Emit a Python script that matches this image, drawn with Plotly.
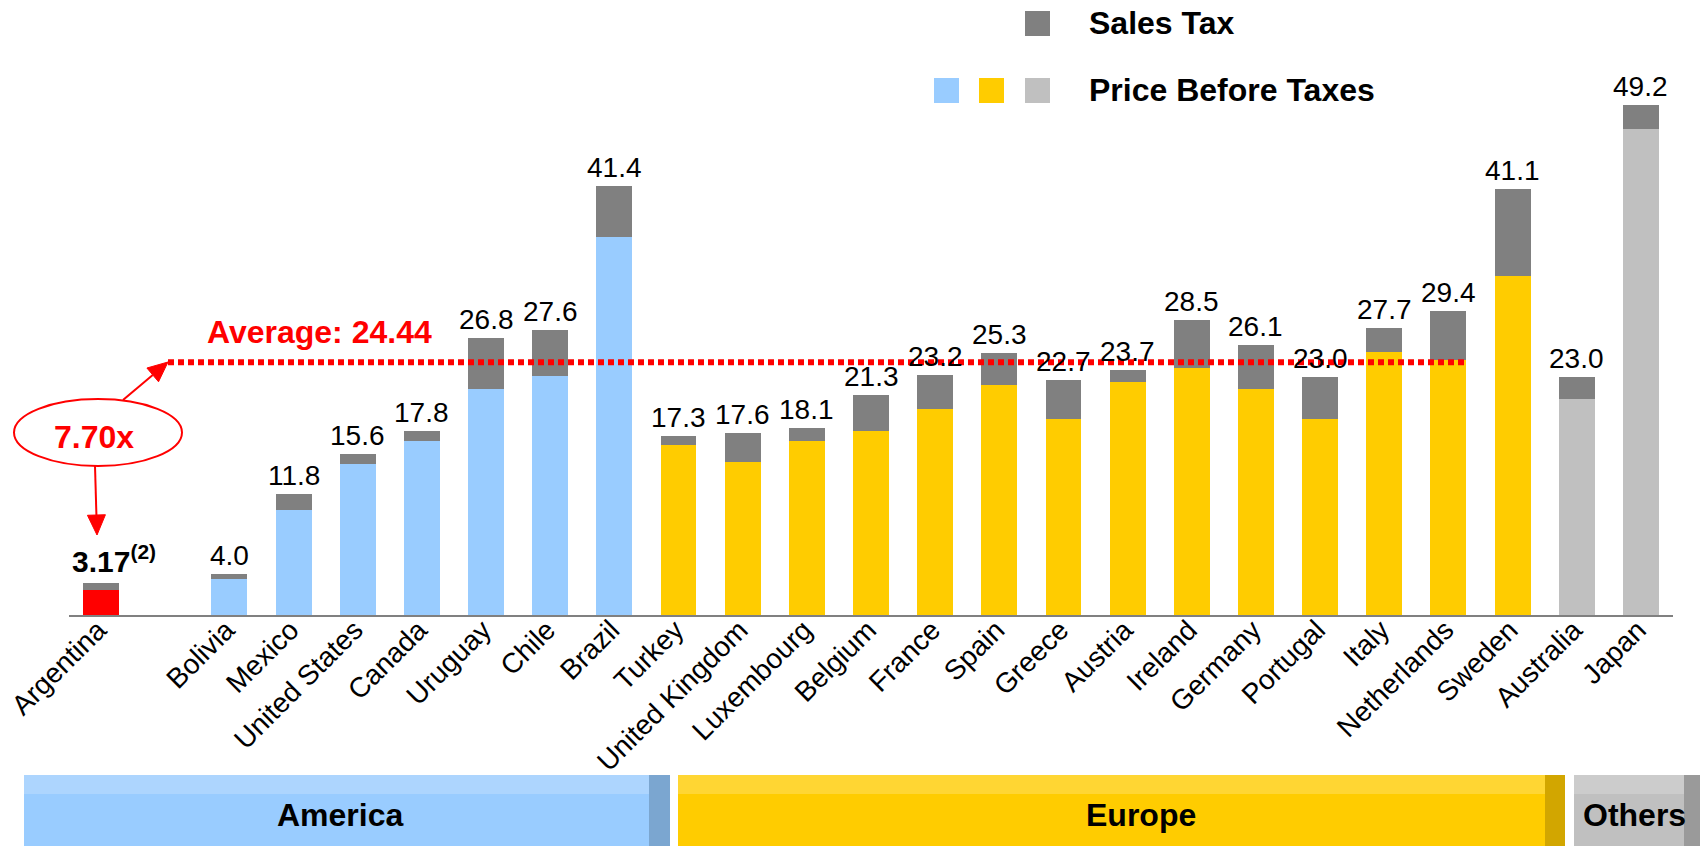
import math
import plotly.graph_objects as go

# ---------------- data ----------------
countries = ["Argentina", "Bolivia", "Mexico", "United States", "Canada", "Uruguay", "Chile", "Brazil",
             "Turkey", "United Kingdom", "Luxembourg", "Belgium", "France", "Spain", "Greece", "Austria",
             "Ireland", "Germany", "Portugal", "Italy", "Netherlands", "Sweden", "Australia", "Japan"]
regions = ["Argentina"] + ["America"] * 7 + ["Europe"] * 14 + ["Others"] * 2
price_before_taxes = [2.49, 3.53, 10.2, 14.6, 16.9, 21.85, 23.1, 36.5,
                      16.5, 14.8, 16.9, 17.8, 19.9, 22.25, 19.0, 22.5,
                      23.9, 21.85, 19.0, 25.4, 24.7, 32.8, 20.9, 46.9]
sales_tax = [0.68, 0.47, 1.6, 1.0, 0.9, 4.95, 4.5, 4.9,
             0.8, 2.8, 1.2, 3.5, 3.3, 3.05, 3.7, 1.2,
             4.6, 4.25, 4.0, 2.3, 4.7, 8.3, 2.1, 2.3]
total_labels = ["3.17", "4.0", "11.8", "15.6", "17.8", "26.8", "27.6", "41.4",
                "17.3", "17.6", "18.1", "21.3", "23.2", "25.3", "22.7", "23.7",
                "28.5", "26.1", "23.0", "27.7", "29.4", "41.1", "23.0", "49.2"]
average_value = 24.44
ratio_label = "7.70x"

region_colors = {"Argentina": "#FF0000", "America": "#99CCFF", "Europe": "#FFCC00", "Others": "#C0C0C0"}
TAX_COLOR = "#808080"
RED = "#FF0000"
FONT = "Liberation Sans, Arial, sans-serif"

# slot positions: one empty slot after Argentina
positions = [0] + [i + 1 for i in range(1, len(countries))]

# ---------------- layout geometry ----------------
# the page body adds an 8px margin, so the figure is 8px smaller on each side
W, H = 1700, 838
ML, MR, MT, MB = 61, 35, 8, 230
PW, PH = W - ML - MR, H - MT - MB
YMAX = PH / 10.38


def pxx(x):  # page x -> paper
    return (x - 8 - ML) / PW


def pxy(y):  # page y -> paper
    return (H - MB - (y - 8)) / PH


fig = go.Figure()
fig.add_trace(go.Bar(
    x=positions, y=price_before_taxes, width=0.56,
    marker=dict(color=[region_colors[r] for r in regions], line=dict(width=0)),
    name="Price Before Taxes", showlegend=False, hoverinfo="skip"))
fig.add_trace(go.Bar(
    x=positions, y=sales_tax, width=0.56,
    marker=dict(color=TAX_COLOR, line=dict(width=0)),
    name="Sales Tax", showlegend=False, hoverinfo="skip"))

annotations = []
shapes = []

# baseline (axis line)
shapes.append(dict(type="line", xref="paper", yref="paper", x0=0, x1=1, y0=0, y1=0,
                   line=dict(color="#808080", width=2), layer="above"))

# value labels
for i, (p, b, t, lab) in enumerate(zip(positions, price_before_taxes, sales_tax, total_labels)):
    if i == 0:
        annotations.append(dict(x=p, y=b + t, xref="x", yref="y", yanchor="bottom", xanchor="center",
                                text=f"<b>{lab}<sup>(2)</sup></b>", showarrow=False, xshift=13, yshift=3,
                                font=dict(family=FONT, size=30, color="black")))
    else:
        annotations.append(dict(x=p, y=b + t, xref="x", yref="y", yanchor="bottom", xanchor="center",
                                text=lab, showarrow=False, yshift=1,
                                font=dict(family=FONT, size=28, color="black")))

# average line
shapes.append(dict(type="line", xref="x", yref="y", x0=1.043, x1=21.3, y0=average_value, y1=average_value,
                   line=dict(color=RED, width=6, dash="6px,4px"), layer="above"))
annotations.append(dict(x=3.41, y=27.33, xref="x", yref="y", xanchor="center", yanchor="middle",
                        text=f"<b>Average: {average_value:.2f}</b>", showarrow=False,
                        font=dict(family=FONT, size=32, color=RED)))

# ellipse with ratio
shapes.append(dict(type="circle", xref="paper", yref="paper", x0=pxx(14), x1=pxx(182), y0=pxy(466), y1=pxy(399),
                   fillcolor="white", line=dict(color=RED, width=2), layer="above"))
annotations.append(dict(x=pxx(94), y=pxy(437), xref="paper", yref="paper", xanchor="center", yanchor="middle",
                        text=f"<b>{ratio_label}</b>", showarrow=False,
                        font=dict(family=FONT, size=32, color=RED)))


# arrows (line + filled triangular head), page pixel coordinates
def arrow(tail, tip, head_len=20, head_half=9):
    dx, dy = tip[0] - tail[0], tip[1] - tail[1]
    n = math.hypot(dx, dy)
    ux, uy = dx / n, dy / n
    bx, by = tip[0] - head_len * ux, tip[1] - head_len * uy
    px_, py_ = -uy, ux
    c1 = (bx + head_half * px_, by + head_half * py_)
    c2 = (bx - head_half * px_, by - head_half * py_)
    shapes.append(dict(type="line", xref="paper", yref="paper",
                       x0=pxx(tail[0]), y0=pxy(tail[1]), x1=pxx(bx), y1=pxy(by),
                       line=dict(color=RED, width=2), layer="above"))
    path = (f"M {pxx(tip[0])} {pxy(tip[1])} L {pxx(c1[0])} {pxy(c1[1])} "
            f"L {pxx(c2[0])} {pxy(c2[1])} Z")
    shapes.append(dict(type="path", xref="paper", yref="paper", path=path,
                       fillcolor=RED, line=dict(color=RED, width=1), layer="above"))


arrow((123, 400), (168, 362))
arrow((95, 466), (97, 535))


# legend
def rect(x0, x1, y0, y1, color):
    shapes.append(dict(type="rect", xref="paper", yref="paper", x0=pxx(x0), x1=pxx(x1), y0=pxy(y1), y1=pxy(y0),
                       fillcolor=color, line=dict(width=0), layer="above"))


rect(1025, 1050, 11, 36, TAX_COLOR)
rect(934, 959, 78, 103, region_colors["America"])
rect(979, 1004, 78, 103, region_colors["Europe"])
rect(1025, 1050, 78, 103, region_colors["Others"])
annotations.append(dict(x=pxx(1087), y=pxy(23), xref="paper", yref="paper", xanchor="left", yanchor="middle",
                        text="<b>Sales Tax</b>", showarrow=False, font=dict(family=FONT, size=32, color="black")))
annotations.append(dict(x=pxx(1087), y=pxy(90), xref="paper", yref="paper", xanchor="left", yanchor="middle",
                        text="<b>Price Before Taxes</b>", showarrow=False,
                        font=dict(family=FONT, size=32, color="black")))

# region bands
region_bands = [
    ("America", 24, 649, 670, "#99CCFF", "#ADD5FE", "#7BA6D0", 340),
    ("Europe", 678, 1545, 1565, "#FFCC00", "#FFD633", "#D2A600", 1141),
    ("Others", 1574, 1684, 1700, "#C0C0C0", "#CCCCCC", "#9A9A9A", 1634),
]
for name, x0, xs, x1, main, light, dark, tx in region_bands:
    rect(x0, xs, 775, 846, main)
    rect(x0, xs, 775, 794, light)
    rect(xs, x1, 775, 846, dark)
    annotations.append(dict(x=pxx(tx), y=pxy(815), xref="paper", yref="paper", xanchor="center",
                            yanchor="middle", text=f"<b>{name}</b>", showarrow=False,
                            font=dict(family=FONT, size=32, color="black")))

fig.update_layout(
    width=W, height=H, autosize=False,
    margin=dict(l=ML, r=MR, t=MT, b=MB, pad=0, autoexpand=False),
    paper_bgcolor="white", plot_bgcolor="white",
    barmode="stack", bargap=0.44, showlegend=False,
    font=dict(family=FONT, color="black"),
    xaxis=dict(range=[-0.5, len(countries) + 0.5], tickmode="array", tickvals=positions, ticktext=countries,
               tickangle=-45, tickfont=dict(family=FONT, size=28, color="black"), showgrid=False,
               zeroline=False, showline=False, ticks="", anchor="free", position=9 / PH,
               ticklabelshift=-3, ticklabeloverflow="allow", automargin=False),
    yaxis=dict(range=[0, YMAX], visible=False, showgrid=False, zeroline=False, automargin=False),
    shapes=shapes, annotations=annotations,
)

fig.write_html("out.html")
